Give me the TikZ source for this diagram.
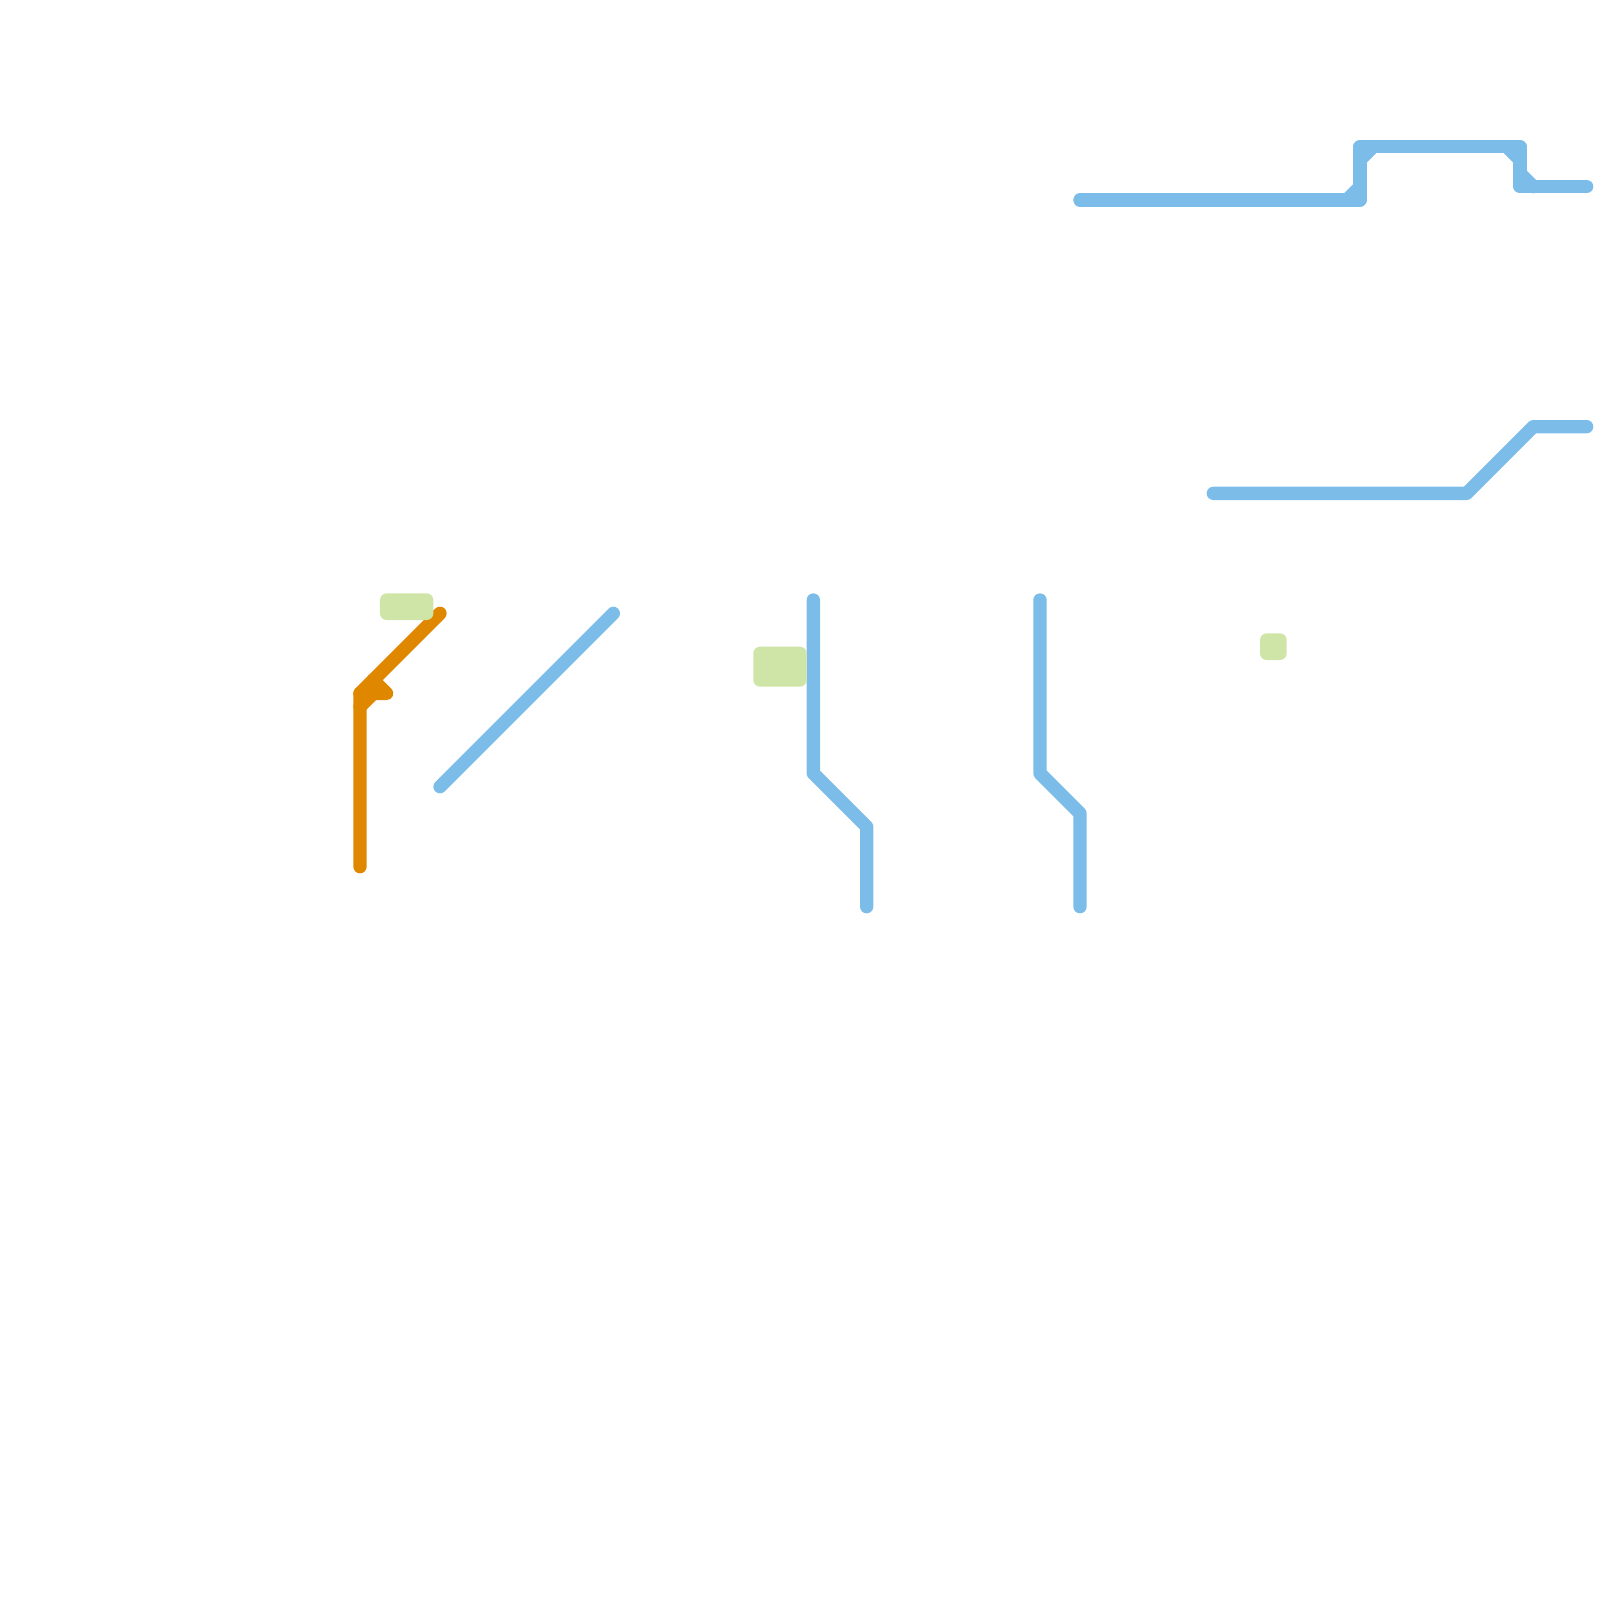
\documentclass[tikz,border=0pt]{standalone}
\definecolor{lineblue}{HTML}{7BBDE8}
\definecolor{lineorange}{HTML}{E08700}
\definecolor{blockgreen}{HTML}{CFE5A8}
\tikzset{
  route/.style={line width=1mm,line cap=round,line join=round},
  block/.style={fill=blockgreen,rounded corners=0.5mm,inner sep=0pt,outer sep=0pt}
}
\begin{document}
\begin{tikzpicture}[x=1mm,y=-1mm]
\useasboundingbox (0,0) rectangle (120,120);
%orange route
         \coordinate (O1) at (33,46);
         \coordinate (O2) at (27,52);
         \coordinate (O3) at (27,65);
         \coordinate (O4) at (27,53);
         \coordinate (O5) at (28,52);
         \coordinate (O6) at (28,51);
         \coordinate (O7) at (29,52);

         \draw [route,lineorange] (O1) -- (O2) -- (O3);
         \draw [route,lineorange] (O4) -- (O5);
         \draw [route,lineorange] (O6) -- (O7) -- (O2);

%diagonal
         \coordinate (D1) at (33,59);
         \coordinate (D2) at (46,46);

         \draw [route,lineblue] (D1) -- (D2);

%two middle routes
         \coordinate (M1) at (61,45);
         \coordinate (M2) at (61,58);
         \coordinate (M3) at (65,62);
         \coordinate (M4) at (65,68);
         \coordinate (N1) at (78,45);
         \coordinate (N2) at (78,58);
         \coordinate (N3) at (81,61);
         \coordinate (N4) at (81,68);

         \draw [route,lineblue] (M1) -- (M2) -- (M3) -- (M4);
         \draw [route,lineblue] (N1) -- (N2) -- (N3) -- (N4);

%right route
         \coordinate (R1) at (91,37);
         \coordinate (R2) at (110,37);
         \coordinate (R3) at (115,32);
         \coordinate (R4) at (119,32);

         \draw [route,lineblue] (R1) -- (R2) -- (R3) -- (R4);

%top route
         \coordinate (T1) at (81,15);
         \coordinate (T2) at (102,15);
         \coordinate (T3) at (102,11);
         \coordinate (T4) at (114,11);
         \coordinate (T5) at (114,14);
         \coordinate (T6) at (119,14);
         \coordinate (T7) at (101,15);
         \coordinate (T8) at (102,14);
         \coordinate (T9) at (102,12);
         \coordinate (T10) at (103,11);
         \coordinate (T11) at (113,11);
         \coordinate (T12) at (114,12);
         \coordinate (T13) at (114,13);
         \coordinate (T14) at (115,14);

         \draw [route,lineblue] (T1) -- (T2) -- (T3) -- (T4) -- (T5) -- (T6);
         \draw [route,lineblue] (T7) -- (T8);
         \draw [route,lineblue] (T9) -- (T10);
         \draw [route,lineblue] (T11) -- (T12);
         \draw [route,lineblue] (T13) -- (T14);

%green blocks
         \node [block,minimum width=4mm,minimum height=2mm] (G1) at (30.5,45.5) {};
         \node [block,minimum width=4mm,minimum height=3mm] (G2) at (58.5,50) {};
         \node [block,minimum width=2mm,minimum height=2mm] (G3) at (95.5,48.5) {};

\end{tikzpicture}
\end{document}
